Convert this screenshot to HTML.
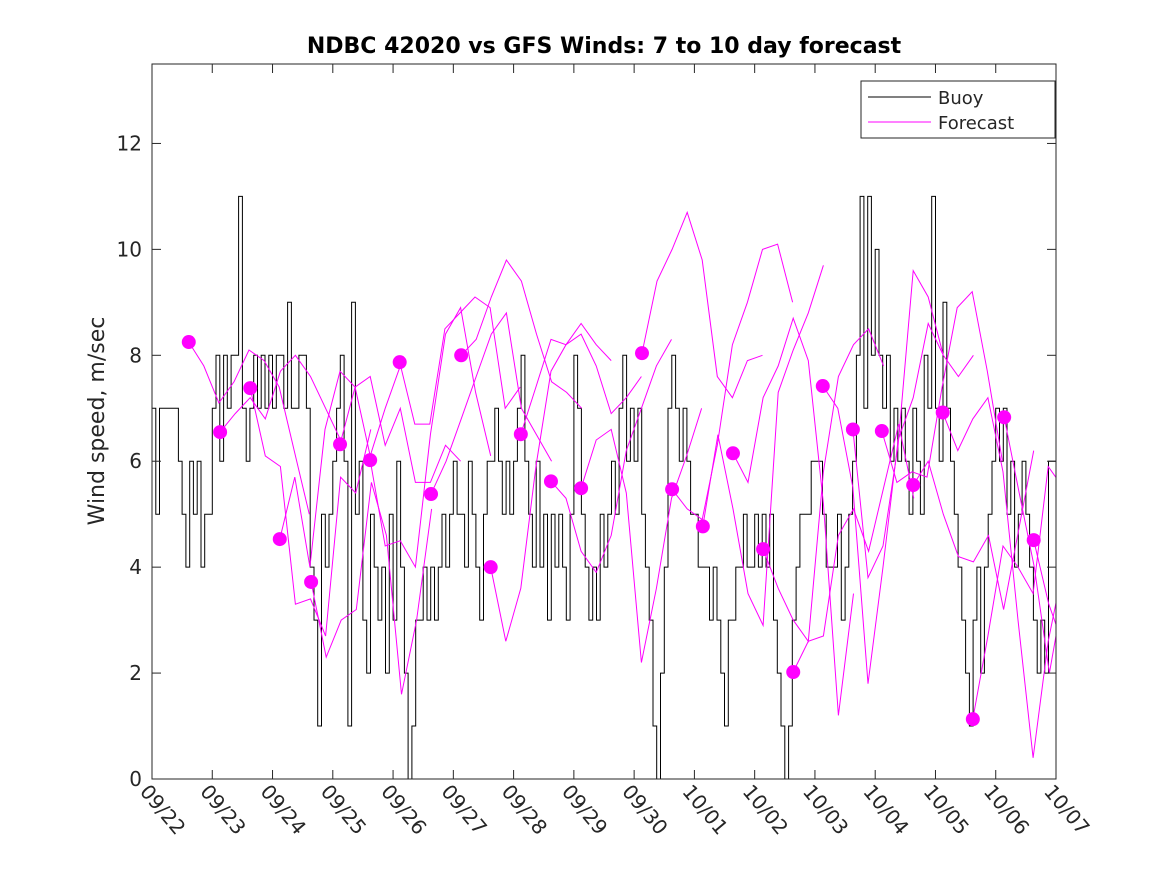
<!DOCTYPE html>
<html><head><meta charset="utf-8"><style>
body{margin:0;background:#fff;}
svg text{font-family:"DejaVu Sans","Liberation Sans",sans-serif;fill:#262626;}
</style></head><body>
<svg id="chart" width="1167" height="875" xmlns="http://www.w3.org/2000/svg">
<defs><clipPath id="clip"><rect x="152" y="64" width="904" height="715"/></clipPath></defs>
<rect x="0" y="0" width="1167" height="875" fill="#fff"/>
<text x="604" y="53" text-anchor="middle" font-size="22" font-weight="bold" style="fill:#000">NDBC 42020 vs GFS Winds: 7 to 10 day forecast</text>
<text transform="translate(104,421) rotate(-90)" text-anchor="middle" font-size="22">Wind speed, m/sec</text>
<g id="plot" clip-path="url(#clip)"></g>
<rect x="152" y="64" width="904" height="715" fill="none" stroke="#262626" stroke-width="1"/>
<g id="axes"></g>
<g>
<rect x="861" y="81" width="194" height="57" fill="#fff" stroke="#262626"/>
<line x1="868" y1="97" x2="931" y2="97" stroke="#000"/>
<text x="938" y="104" font-size="18">Buoy</text>
<line x1="868" y1="122" x2="931" y2="122" stroke="#ff00ff"/>
<text x="938" y="129" font-size="18">Forecast</text>
</g>
</svg>
<script>
const xLabels=["09/22","09/23","09/24","09/25","09/26","09/27","09/28","09/29","09/30","10/01","10/02","10/03","10/04","10/05","10/06","10/07"];
const yTicks=[0,2,4,6,8,10,12];
const buoy=[7,5,7,7,7,7,7,6, 5,4,6,5,6,4,5,5, 7,8,6,8,7,8,8,11, 7,6,7,8,7,8,7,8, 7,8,8,7,9,7,7,8, 8,7,4,3,1,5,4,5, 6,7,8,6,1,9,5,6, 3,2,5,4,3,4,2,5, 3,6,4,2,0,1,3,3, 4,3,4,3,4,5,4,5, 6,5,5,4,6,5,4,3, 5,6,6,7,6,5,6,5, 6,7,8,6,5,4,6,4, 5,3,5,4,5,4,3,5, 8,7,5,4,3,4,3,5, 4,5,6,5,7,8,6,7, 6,7,5,4,3,1,0,2, 4,7,8,7,6,7,6,5, 5,4,4,4,3,4,3,2, 1,3,3,4,4,5,4,4, 5,4,5,4,5,3,2,1, 0,1,3,4,5,5,5,6, 6,6,5,4,4,4,5,3, 4,5,6,8,11,7,11,8, 10,8,7,8,6,7,6,7, 6,5,7,6,5,8,7,11, 7,6,9,7,6,5,4,3, 2,1,3,4,2,4,5,6, 7,6,7,5,6,4,5,6, 5,4,3,2,3,2,6,6];
const fcStart=[0.61,1.13,1.63,2.12,2.64,3.12,3.62,4.11,4.63,5.13,5.62,6.12,6.62,7.12,8.13,8.63,9.14,9.64,10.14,10.64,11.13,11.63,12.11,12.63,13.12,13.62,14.14,14.63];
const fcValues=[
[8.25,7.8,7.1,7.5,8.1,7.9,7.4,6.2,5.0],
[6.55,6.9,7.2,6.8,7.7,8.0,7.6,7.0,6.4],
[7.38,6.1,5.9,3.3,3.4,2.7,5.7,5.4,6.6],
[4.53,5.7,4.0,6.6,7.7,7.4,6.1,7.0,7.8],
[3.72,2.3,3.0,3.2,5.6,4.6,1.6,3.0,5.1],
[6.32,7.4,7.6,6.3,7.0,5.6,5.6,6.3,6.0],
[6.02,4.4,4.5,4.0,6.5,8.4,8.9,7.3,6.1],
[7.87,6.7,6.7,8.5,8.8,9.1,8.9,7.0,7.4],
[5.38,6.0,6.8,7.6,8.4,8.8,7.0,6.5,6.0],
[8.0,8.3,9.1,9.8,9.4,8.4,7.5,7.3,7.0],
[4.0,2.6,3.6,5.9,7.7,8.2,8.6,8.2,7.9],
[6.51,7.4,8.3,8.2,8.4,7.8,6.9,7.2,7.6],
[5.62,5.3,4.3,3.9,4.6,6.2,7.0,7.8,8.3],
[5.49,6.4,6.6,5.4,2.2,3.6,5.3,6.1,7.0],
[8.04,9.4,10.0,10.7,9.8,7.6,7.2,7.9,8.0],
[5.47,5.1,4.9,6.3,8.2,9.0,10.0,10.1,9.0],
[4.77,6.5,5.1,3.5,2.9,7.3,8.1,8.8,9.7],
[6.15,5.6,7.2,7.8,8.7,7.9,5.2,1.2,3.5],
[4.34,3.6,3.0,2.6,5.8,7.6,8.2,8.5,7.8],
[2.02,2.6,2.7,4.6,5.1,4.3,5.5,6.7,5.3],
[7.42,7.0,5.5,1.8,4.0,6.4,7.2,8.6,8.0],
[6.6,3.8,4.4,6.3,9.6,9.1,8.0,7.6,8.0],
[6.57,5.6,5.8,5.7,7.4,8.9,9.2,7.7,6.0],
[5.55,6.0,5.0,4.2,4.1,4.6,3.2,4.7,6.2],
[6.92,6.2,6.8,7.2,5.8,3.0,0.4,2.6,4.0],
[1.13,2.7,4.4,4.0,3.5,5.9,5.5,4.1,6.6],
[6.83,5.4,4.0,2.0,3.6,5.5,1.5,2.0,3.9],
[4.51,3.3,2.5,1.0,2.2,6.6,7.1,6.0,5.0]
];
const X0=152,X1=1056,Y0=779,Y1=64,DAYS=15,YMAX=13.5;
function xs(d){return X0+d*(X1-X0)/DAYS;}
function ys(v){return Y0-v*(Y0-Y1)/YMAX;}
const NS="http://www.w3.org/2000/svg";
const plot=document.getElementById('plot'),axes=document.getElementById('axes');
function mk(tag,attrs,parent){const e=document.createElementNS(NS,tag);for(const k in attrs)e.setAttribute(k,attrs[k]);parent.appendChild(e);return e;}
let step=DAYS/buoy.length,d="";
buoy.forEach((v,i)=>{const x0=xs(i*step),x1=xs((i+1)*step),y=ys(v);d+=(i?"L":"M")+x0.toFixed(1)+","+y.toFixed(1)+"L"+x1.toFixed(1)+","+y.toFixed(1);});
const bl=mk('path',{d:d,fill:'none',stroke:'#000','stroke-width':1},plot);


fcValues.forEach((arr,j)=>{
  let p="";arr.forEach((v,i)=>{p+=(i?"L":"M")+xs(fcStart[j]+i*0.25).toFixed(1)+","+ys(v).toFixed(1);});
  const l=mk('path',{d:p,fill:'none',stroke:'#ff00ff','stroke-width':1},plot);
  
  
});
fcValues.forEach((arr,j)=>{
  const c=mk('circle',{cx:xs(fcStart[j]),cy:ys(arr[0]),r:7,fill:'#ff00ff'},plot);
  
  
});
yTicks.forEach(v=>{
  const y=ys(v);
  mk('line',{x1:X0,y1:y,x2:X0+9,y2:y,stroke:'#262626'},axes);
  mk('line',{x1:X1,y1:y,x2:X1-9,y2:y,stroke:'#262626'},axes);
  const t=mk('text',{x:X0-10,y:y+7,'text-anchor':'end','font-size':20},axes);
  t.textContent=v;
  
  
});
xLabels.forEach((s,i)=>{
  const x=xs(i);
  mk('line',{x1:x,y1:Y0,x2:x,y2:Y0-9,stroke:'#262626'},axes);
  mk('line',{x1:x,y1:Y1,x2:x,y2:Y1+9,stroke:'#262626'},axes);
  const t=mk('text',{transform:`translate(${x-13},${792}) rotate(50)`,'font-size':20},axes);
  t.textContent=s;
  
  
});
</script>
</body></html>
